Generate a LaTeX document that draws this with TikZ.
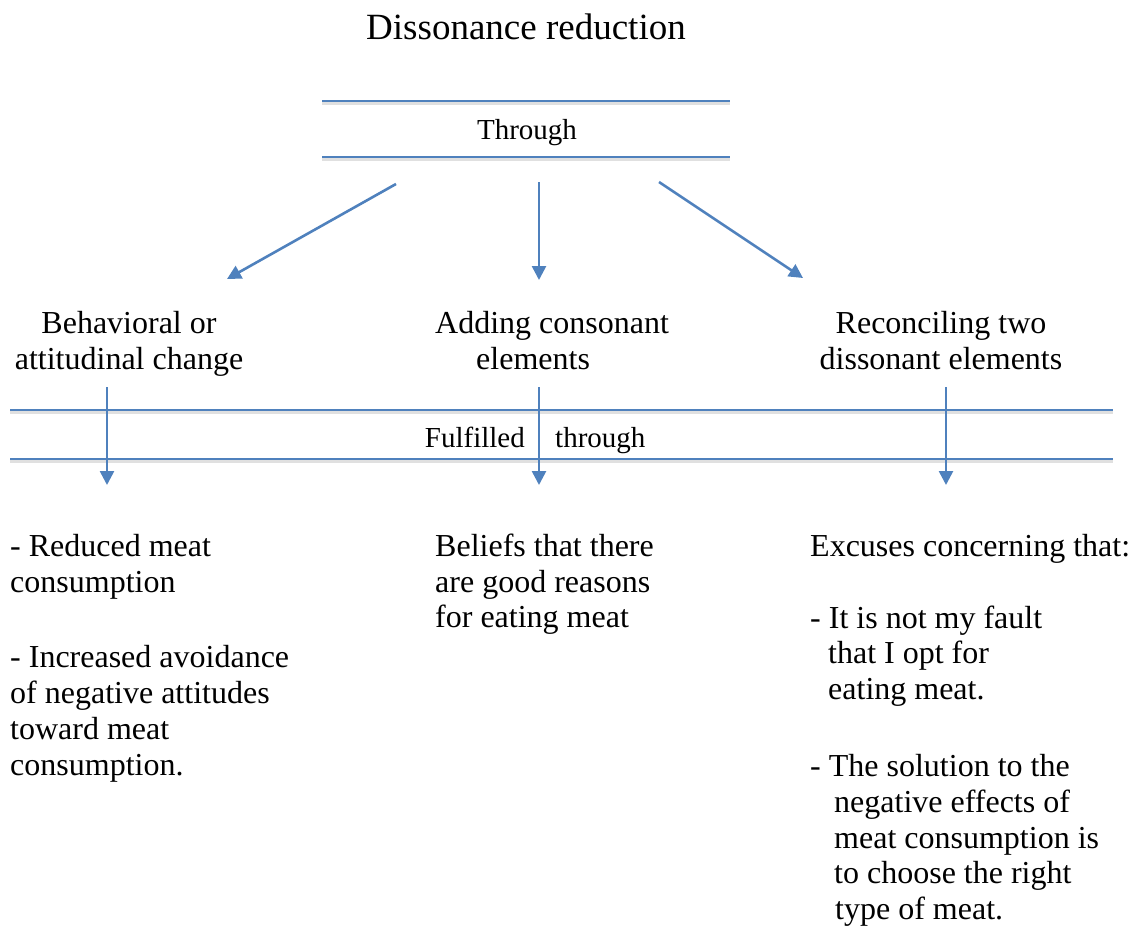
\documentclass[tikz,border=0pt]{standalone}
\usepackage{fontspec}
\setmainfont{Liberation Serif}
\usetikzlibrary{arrows.meta}
\definecolor{lineblue}{RGB}{79,129,189}
\begin{document}
\begin{tikzpicture}[x=1pt,y=-1pt,
  rule/.style={draw=lineblue, line width=2.8pt,
    preaction={draw=black!12, line width=3.5pt, transform canvas={yshift=-2.2pt}}},
  arr/.style={draw=lineblue, line width=2.6pt, -{Triangle[length=14pt,width=14pt]}},
  body/.style={font=\fontsize{32}{35.8}\selectfont, inner sep=0pt},
  small/.style={font=\fontsize{29}{34}\selectfont, inner sep=0pt},
  blockl/.style={body, align=left, anchor=north west},
  blockc/.style={body, align=center, anchor=north}]
\useasboundingbox (0,0) rectangle (1137,932);
% title
\node[font=\fontsize{37}{44}\selectfont, inner sep=0pt] (title) at (526,27) {Dissonance reduction};
% Through box
\coordinate (t1a) at (322,101); \coordinate (t1b) at (730,101);
\coordinate (t2a) at (322,157); \coordinate (t2b) at (730,157);
\draw[rule] (t1a) -- (t1b);
\draw[rule] (t2a) -- (t2b);
\node[small, anchor=base] (through) at (527,139) {Through};
% first arrows
\coordinate (s1) at (396,184); \coordinate (e1) at (227,279);
\coordinate (s2) at (539,182); \coordinate (e2) at (539,280);
\coordinate (s3) at (659,182); \coordinate (e3) at (803,278);
\draw[arr] (s1) -- (e1);
\draw[arr] (s2) -- (e2);
\draw[arr] (s3) -- (e3);
% labels
\node[blockc] (beh) at (129,308) {\strut Behavioral or\\attitudinal change};
\node[blockl] (add) at (435,308) {\strut Adding consonant\\\hspace*{41pt}elements};
\node[blockc] (rec) at (941,308) {\strut Reconciling two\\dissonant elements};
% fulfilled band
\coordinate (f1a) at (10,410); \coordinate (f1b) at (1113,410);
\coordinate (f2a) at (10,459); \coordinate (f2b) at (1113,459);
\draw[rule] (f1a) -- (f1b);
\draw[rule] (f2a) -- (f2b);
\node[small, anchor=base east] (fulf) at (525,447) {Fulfilled};
\node[small, anchor=base west] (thr2) at (555,447) {through};
% vertical arrows
\coordinate (v1s) at (107,387); \coordinate (v1e) at (107,485);
\coordinate (v2s) at (539,387); \coordinate (v2e) at (539,485);
\coordinate (v3s) at (946,387); \coordinate (v3e) at (946,485);
\draw[arr] (v1s) -- (v1e);
\draw[arr] (v2s) -- (v2e);
\draw[arr] (v3s) -- (v3e);
% lower texts
\node[blockl] (left) at (10,531) {\strut - Reduced meat\\consumption\\[40pt]- Increased avoidance\\of negative attitudes\\toward meat\\consumption.};
\node[blockl] (mid) at (435,531) {\strut Beliefs that there\\are good reasons\\for eating meat};
\node[blockl] (right) at (810,531) {\strut Excuses concerning that:\\[36pt]- It is not my fault\\\hspace*{18pt}that I opt for\\\hspace*{18pt}eating meat.\\[41pt]- The solution to the\\\hspace*{24pt}negative effects of\\\hspace*{24pt}meat consumption is\\\hspace*{24pt}to choose the right\\\hspace*{25pt}type of meat.};
\end{tikzpicture}
\end{document}
